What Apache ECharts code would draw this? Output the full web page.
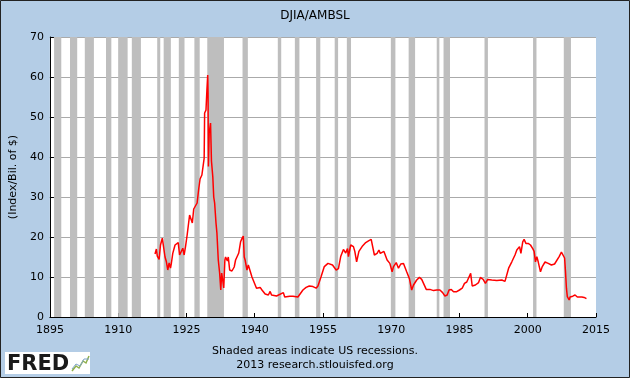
<!DOCTYPE html>
<html>
<head>
<meta charset="utf-8">
<script src="https://cdn.jsdelivr.net/npm/echarts@6/dist/echarts.min.js"></script>
<style>
html,body{margin:0;padding:0;background:#B4CDE6;}
#c{width:630px;height:378px;}
</style>
</head>
<body>
<div id="c"></div>
<script>
// ---- Data ----
const axisStartYear = 1895;
const xTickLabels = ['1895','1910','1925','1940','1955','1970','1985','2000','2015'];
const yTickLabels = ['0','10','20','30','40','50','60','70'];

const years = [
1918.1,1918.4,1918.6,1919.0,1919.3,1919.7,1919.9,1920.3,1920.6,1920.9,1921.2,1921.5,1921.7,1922.0,1922.5,1922.76,1923.2,1923.5,1923.9,1924.2,1924.5,1924.8,1925.16,1925.7,1926.3,1926.6,1927.35,1927.7,1928.0,1928.4,1928.9,1929.0,1929.3,1929.5,1929.68,1929.75,1929.83,1930.0,1930.3,1930.5,1930.8,1931.0,1931.2,1931.5,1931.7,1932.0,1932.3,1932.55,1932.75,1933.0,1933.2,1933.45,1933.6,1934.0,1934.2,1934.5,1935.0,1935.5,1935.8,1936.5,1936.9,1937.2,1937.5,1937.7,1937.9,1938.3,1938.6,1939.0,1939.4,1939.8,1940.4,1941.2,1941.6,1942.3,1943.0,1943.4,1943.7,1944.8,1945.2,1946.3,1946.6,1947.7,1948.4,1949.5,1950.6,1951.3,1952.0,1952.8,1953.5,1953.9,1954.6,1955.3,1956.1,1956.4,1957.1,1957.9,1958.4,1958.9,1959.5,1960.0,1960.4,1960.6,1961.1,1961.7,1962.0,1962.4,1962.9,1963.6,1964.4,1965.1,1965.6,1966.0,1966.3,1966.9,1967.3,1967.6,1968.0,1968.4,1968.7,1969.1,1969.7,1970.2,1970.5,1971.1,1971.6,1972.1,1972.7,1973.1,1973.4,1974.0,1974.5,1974.9,1975.6,1976.2,1976.7,1977.1,1977.7,1978.5,1979.3,1980.0,1980.7,1981.3,1981.8,1982.3,1982.7,1983.2,1983.7,1984.3,1985.0,1985.6,1986.1,1986.6,1987.46,1987.8,1988.5,1989.2,1989.6,1990.2,1990.7,1991.2,1992.1,1993.2,1994.3,1995.0,1995.8,1996.5,1997.2,1997.6,1998.2,1998.5,1998.9,1999.2,1999.6,2000.1,2000.6,2001.1,2001.4,2001.7,2002.0,2002.3,2002.8,2003.2,2003.8,2004.5,2005.2,2005.9,2006.3,2006.9,2007.4,2007.7,2008.1,2008.3,2008.5,2008.7,2009.1,2009.3,2009.9,2010.4,2010.9,2011.3,2011.9,2012.4,2012.9,2013.0
];
const ratio = [
15.75,17,15.2,14.4,18,19.7,19.25,15,13.8,11.75,13.5,12.25,13.5,15.9,18,18.4,18.6,15.5,16,17.2,15.5,17.6,20.5,25.5,23.5,27,28.5,32,34.5,35.5,39.7,51,51.7,56.7,60.5,56,37.6,46,48.5,39,35,30,28.5,23.5,21,14.25,11,6.75,11,9,7.25,14.25,15,14,15,11.75,11.5,12.5,14.25,16,18.8,19.6,20.25,15,14.25,11.75,13,12.5,10,10,7.2,7.4,6.75,5.75,5.5,6.4,5.5,5.25,5,6.1,5,5.2,5.2,5,6.75,7.4,7.75,7.6,7.2,7.75,10.1,12.6,13.4,13.75,13,11.75,12.1,15.1,16.9,16,17.1,15.1,18,17.6,16.4,13.8,16.4,17.6,18.6,19.1,19.4,19.7,15.5,15.9,16.75,15.9,15.5,16.4,15.9,14.25,13.4,11.3,12.6,13.6,12.2,13.25,13.4,12.2,11.3,9.6,6.75,8,9.25,9.9,9.4,8.9,6.9,6.9,6.6,6.75,6.75,6.1,5.25,5.5,6.75,6.9,6.3,6.3,6.75,7.2,8.4,8.75,10.9,7.75,8,8.6,9.9,9.4,8.4,9.4,9.25,9.1,9.25,8.9,12.2,13.8,15.5,16.75,17.6,15.9,18.8,19.4,18.4,18.4,18,17.1,16.4,13.8,15.1,13.8,11.3,12.6,13.75,13.4,13,13.25,13.75,15.1,16.2,15.75,14.75,11.3,7.2,5.1,4.25,5.0,5.2,5.5,5,4.5,5,4.9,4.6,4.7
];
// NBER recessions (start, end) as decimal years
const recessionStart = [1895.92,1899.42,1902.67,1907.33,1910.0,1913.0,1918.58,1920.0,1923.33,1926.75,1929.58,1937.33,1945.08,1948.83,1953.5,1957.58,1960.25,1969.92,1973.83,1980.0,1981.5,1990.5,2001.17,2007.92];
const recessionEnd   = [1897.5,1901.0,1904.67,1908.5,1912.08,1915.0,1919.25,1921.58,1924.58,1927.92,1933.25,1938.5,1945.83,1949.83,1954.42,1958.33,1961.17,1970.92,1975.25,1980.58,1982.92,1991.25,2001.92,2009.5];

// ---- Build ----
const lineData = years.map((y,i)=>[y-axisStartYear, ratio[i]]);
const areas = recessionStart.map((s,i)=>[{xAxis:s-axisStartYear},{xAxis:recessionEnd[i]-axisStartYear}]);
const FONT = 'DejaVu Sans';

const chart = echarts.init(document.getElementById('c'), null, {renderer:'canvas'});
chart.setOption({
  animation:false,
  backgroundColor:'#B4CDE6',
  title:{
    text:'DJIA/AMBSL', left:'center', top:5,
    textStyle:{fontFamily:FONT,fontSize:12,fontWeight:'normal',color:'#000'}
  },
  grid:{left:47,top:37,right:34,bottom:61,show:true,backgroundColor:'#fff',borderWidth:0},
  xAxis:{
    type:'value', min:0, max:120, interval:15,
    axisLine:{show:true,lineStyle:{color:'#000',width:1}},
    axisTick:{show:true,inside:true,length:4,lineStyle:{color:'#000'}},
    axisLabel:{margin:8,color:'#000',fontFamily:FONT,fontSize:11,
      formatter:(v)=>xTickLabels[Math.round(v/15)]},
    splitLine:{show:false}
  },
  yAxis:{
    type:'value', min:0, max:70, interval:10,
    name:'(Index/Bil. of $)', nameLocation:'middle', nameGap:28,
    nameTextStyle:{fontFamily:FONT,fontSize:11,color:'#000'},
    axisLine:{show:true,lineStyle:{color:'#000',width:1}},
    axisTick:{show:true,inside:true,length:4,lineStyle:{color:'#000'}},
    axisLabel:{margin:6,color:'#000',fontFamily:FONT,fontSize:11,
      formatter:(v)=>yTickLabels[Math.round(v/10)]},
    splitLine:{show:true,lineStyle:{color:'#AAAAAA',width:1}}
  },
  series:[{
    type:'line', data:lineData, showSymbol:false, symbol:'none',
    lineStyle:{color:'#FF0000',width:1.5}, z:5,
    markArea:{silent:true,itemStyle:{color:'#BEBEBE',opacity:1},data:areas}
  }],
  graphic:[
    {type:'text',left:'center',top:346,style:{text:'Shaded areas indicate US recessions.',fontFamily:FONT,fontSize:11,fill:'#000'}},
    {type:'text',left:'center',top:360,style:{text:'2013 research.stlouisfed.org',fontFamily:FONT,fontSize:11,fill:'#000'}},
    {type:'rect',shape:{x:5,y:352,width:85,height:22},style:{fill:'#fff'}},
    {type:'text',x:7,y:354,style:{text:'FRED',fontFamily:FONT,fontSize:21,fontWeight:'bold',fill:'#1a1a1a'}},
    {type:'polyline',shape:{points:[[72,371],[76,366],[79,368],[83,361],[86,363],[89,356]]},style:{stroke:'#8fb04a',lineWidth:1.5,fill:null}},
    {type:'polyline',shape:{points:[[72,369],[76,364],[80,366],[84,359],[89,359]]},style:{stroke:'#7fa3c9',lineWidth:1,fill:null}},
    {type:'rect',shape:{x:0.5,y:0.5,width:629,height:377},style:{fill:null,stroke:'#222',lineWidth:1}}
  ]
});
</script>
</body>
</html>
